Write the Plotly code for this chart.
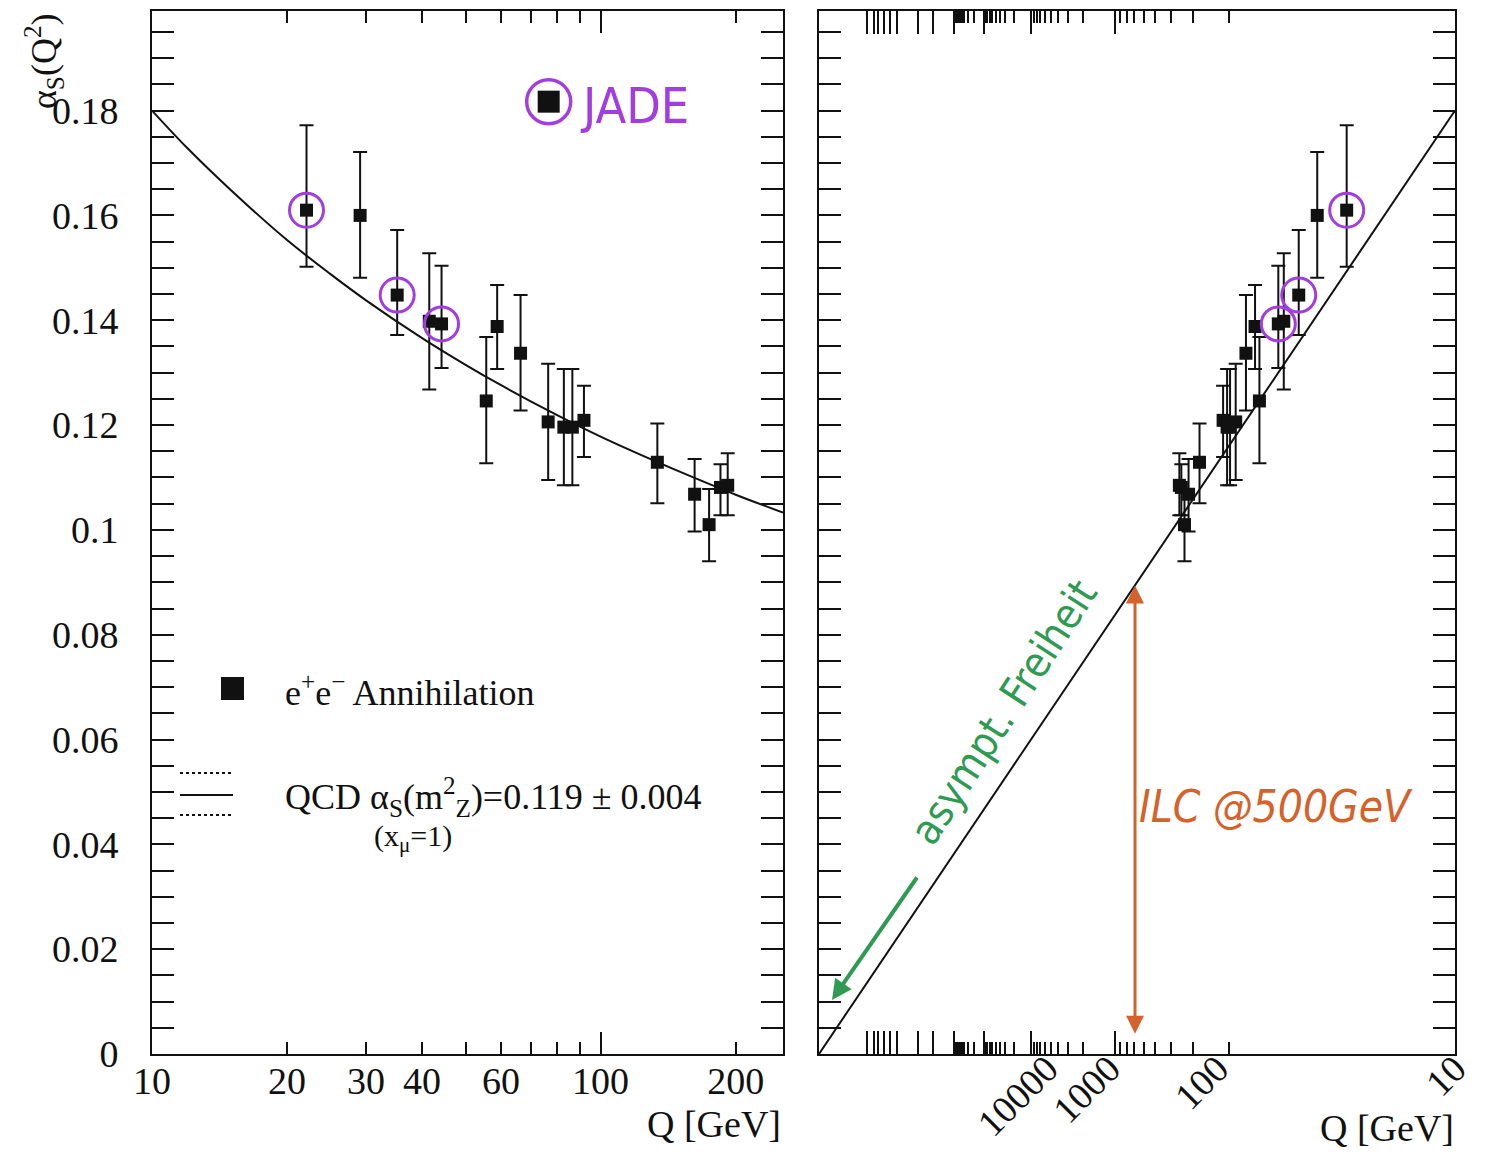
import numpy as np
import plotly.graph_objects as go

# ---------------- data ----------------
Q = [22.1, 29.1, 35.2, 41.5, 44.2, 55.6, 58.8, 66.3, 76.4, 82.8, 86.5, 91.8,
     133.8, 162.0, 174.5, 185.0, 192.0]
alpha_s = [0.1610, 0.1600, 0.1448, 0.1398, 0.1393, 0.1246, 0.1388, 0.1337, 0.1206,
           0.1196, 0.1196, 0.1209, 0.1129, 0.1068, 0.1010, 0.1081, 0.1085]
err_up = [0.0162, 0.0121, 0.0124, 0.0130, 0.0111, 0.0122, 0.0079, 0.0111, 0.0111,
          0.0111, 0.0111, 0.0066, 0.0074, 0.0067, 0.0068, 0.0044, 0.0061]
err_dn = [0.0108, 0.0119, 0.0076, 0.0130, 0.0084, 0.0119, 0.0081, 0.0109, 0.0111,
          0.0111, 0.0111, 0.0070, 0.0078, 0.0071, 0.0070, 0.0053, 0.0057]
circled = [0, 2, 4]          # points marked with purple circles (JADE)

jade_Q = [76.6]
jade_alpha = [0.1817]

curve_Q = [10, 12, 15, 20, 25, 30, 40, 50, 60, 80, 100, 130, 160, 200, 255]
curve_alpha = [0.1800, 0.1728, 0.1648, 0.1553, 0.1488, 0.1438, 0.1366, 0.1315,
               0.1276, 0.1219, 0.1178, 0.1134, 0.1101, 0.1067, 0.1033]

line_Q_end = 10
line_alpha_end = 0.18
ilc_Q = 500

# tick labels
left_x_label_Q = [10, 20, 30, 40, 60, 100, 200]
left_x_minor_Q = [50, 70, 80, 90]
left_x_long_Q = [100]
y_tick_vals = [0, 0.02, 0.04, 0.06, 0.08, 0.10, 0.12, 0.14, 0.16, 0.18]
y_tick_text = ["0", "0.02", "0.04", "0.06", "0.08", "0.1", "0.12", "0.14", "0.16", "0.18"]
right_label_Q = [10, 100, 1000, 10000]
right_label_text = ["10", "100", "1000", "10000"]
right_major_Q = [1e3, 1e4, 1e5, 1e6, 1e7, 1e8, 1e10, 1e11, 1e12, 1e13, 1e14, 1e16]
right_minor_Q = [m * 10.0 ** e for e in (2, 3, 4, 5) for m in range(2, 10)]

# ---------------- scales ----------------
LAMBDA_R = 0.21


def u(q):
    """right panel abscissa: 1/ln(Q/Lambda) (asymptotic-freedom scale)"""
    return 1.0 / np.log(np.asarray(q, dtype=float) / LAMBDA_R)


def u_tick(q):
    """position of the printed tick marks on the right panel"""
    return 0.6969 / (np.log(np.asarray(q, dtype=float)) - 1.123)


U_MAX = float(u(line_Q_end))

W, H = 1488, 1156


def px(x):
    return x / W


def py(y):
    return 1 - y / H


SERIF = "Liberation Serif, Times New Roman, serif"
HAND = "DejaVu Sans Condensed, Liberation Sans Narrow, Liberation Sans, sans-serif"
BLACK = "#111111"
PURPLE = "#a23ee0"
GREEN = "#2e9a52"
ORANGE = "#d4622a"

fig = go.Figure()

err = dict(type="data", symmetric=False, array=err_up, arrayminus=err_dn,
           thickness=2, width=7, color=BLACK)

# ---- left panel ----
fig.add_trace(go.Scatter(x=curve_Q, y=curve_alpha, mode="lines", line=dict(color=BLACK, width=2, shape="spline"),
                         xaxis="x", yaxis="y", showlegend=False))
fig.add_trace(go.Scatter(x=Q, y=alpha_s, mode="markers", error_y=err,
                         marker=dict(symbol="square", size=13, color=BLACK),
                         xaxis="x", yaxis="y", showlegend=False))
fig.add_trace(go.Scatter(x=[Q[i] for i in circled], y=[alpha_s[i] for i in circled], mode="markers",
                         marker=dict(symbol="circle-open", size=34, color=PURPLE, line=dict(width=3)),
                         xaxis="x", yaxis="y", showlegend=False))
fig.add_trace(go.Scatter(x=jade_Q, y=jade_alpha, mode="markers",
                         marker=dict(symbol="square", size=22, color=BLACK),
                         xaxis="x", yaxis="y", showlegend=False))
fig.add_trace(go.Scatter(x=jade_Q, y=jade_alpha, mode="markers",
                         marker=dict(symbol="circle-open", size=44, color=PURPLE, line=dict(width=3.5)),
                         xaxis="x", yaxis="y", showlegend=False))

# ---- right panel ----
fig.add_trace(go.Scatter(x=[0, U_MAX], y=[0, line_alpha_end], mode="lines",
                         line=dict(color=BLACK, width=2), xaxis="x2", yaxis="y2", showlegend=False))
fig.add_trace(go.Scatter(x=u(Q), y=alpha_s, mode="markers", error_y=err,
                         marker=dict(symbol="square", size=13, color=BLACK),
                         xaxis="x2", yaxis="y2", showlegend=False))
fig.add_trace(go.Scatter(x=u([Q[i] for i in circled]), y=[alpha_s[i] for i in circled], mode="markers",
                         marker=dict(symbol="circle-open", size=34, color=PURPLE, line=dict(width=3)),
                         xaxis="x2", yaxis="y2", showlegend=False))

# invisible anchors so that the helper axes (labels / long tick) are drawn
fig.add_trace(go.Scatter(x=[U_MAX / 2], y=[0.1], mode="markers", marker=dict(opacity=0),
                         hoverinfo="skip", xaxis="x3", yaxis="y2", showlegend=False))
fig.add_trace(go.Scatter(x=[50], y=[0.1], mode="markers", marker=dict(opacity=0),
                         hoverinfo="skip", xaxis="x4", yaxis="y", showlegend=False))

tickfont = dict(family=SERIF, size=38, color=BLACK)
XD1 = [px(152), px(783)]
XD2 = [px(819), px(1455)]
YD = [py(1054), py(11)]
YR = [0, 0.199]
LX = [1, np.log10(255.0)]

yax_common = dict(range=YR, domain=YD, showline=True, linecolor=BLACK, linewidth=2, mirror="allticks",
                  ticks="inside", ticklen=22, tickwidth=2, tickcolor=BLACK,
                  tickvals=y_tick_vals, ticktext=y_tick_text,
                  minor=dict(tickmode="linear", tick0=0, dtick=0.005, ticks="inside", ticklen=12,
                             tickwidth=2, tickcolor=BLACK),
                  showgrid=False, zeroline=False, tickfont=tickfont, automargin=False)

fig.update_layout(
    template="none",
    width=W, height=H, autosize=False,
    margin=dict(l=0, r=0, t=0, b=0, pad=0),
    paper_bgcolor="white", plot_bgcolor="white",
    xaxis=dict(type="log", range=LX, domain=XD1, anchor="y", showline=True, linecolor=BLACK, linewidth=2,
               mirror="allticks", ticks="inside", ticklen=12, tickwidth=2, tickcolor=BLACK,
               tickvals=left_x_label_Q, ticktext=[str(v) for v in left_x_label_Q],
               minor=dict(tickvals=left_x_minor_Q, ticks="inside", ticklen=12, tickwidth=2, tickcolor=BLACK),
               showgrid=False, zeroline=False, tickfont=tickfont, ticklabelstandoff=-8, automargin=False),
    xaxis4=dict(type="log", range=LX, overlaying="x", anchor="y", showline=False, mirror="allticks",
                ticks="inside", ticklen=22, tickwidth=2, tickcolor=BLACK, tickvals=left_x_long_Q,
                showticklabels=False, showgrid=False, zeroline=False, automargin=False),
    yaxis=dict(anchor="x", ticklabelstandoff=24, **yax_common),
    xaxis2=dict(range=[0, U_MAX], domain=XD2, anchor="y2", showline=True, linecolor=BLACK, linewidth=2,
                mirror="allticks", ticks="inside", ticklen=23, tickwidth=2, tickcolor=BLACK,
                tickvals=list(u_tick(right_major_Q)), showticklabels=False,
                minor=dict(tickvals=list(u_tick(right_minor_Q)), ticks="inside", ticklen=12,
                           tickwidth=2, tickcolor=BLACK),
                showgrid=False, zeroline=False, automargin=False),
    xaxis3=dict(range=[0, U_MAX], overlaying="x2", anchor="y2", showline=False, ticks="",
                tickvals=list(u(right_label_Q)), ticktext=right_label_text, tickangle=-45,
                showgrid=False, zeroline=False, tickfont=tickfont, ticklabelstandoff=-16, automargin=False),
    yaxis2=dict(anchor="x2", showticklabels=False, **yax_common),
)

ann = []
# axis titles
ann.append(dict(text="Q [GeV]", xref="paper", yref="paper", x=px(783), y=py(1124), xanchor="right",
                yanchor="middle", showarrow=False, font=dict(family=SERIF, size=38, color=BLACK)))
ann.append(dict(text="Q [GeV]", xref="paper", yref="paper", x=px(1456), y=py(1128), xanchor="right",
                yanchor="middle", showarrow=False, font=dict(family=SERIF, size=38, color=BLACK)))
ann.append(dict(text="α<sub>S</sub>(Q<sup>2</sup>)", xref="paper", yref="paper", x=px(44), y=py(62),
                xanchor="center", yanchor="middle", textangle=-90, showarrow=False,
                font=dict(family=SERIF, size=36, color=BLACK)))
# legend texts
ann.append(dict(text="e<sup>+</sup>e<sup>−</sup> Annihilation", xref="paper", yref="paper", x=px(283), y=py(690),
                xanchor="left", yanchor="middle", showarrow=False, font=dict(family=SERIF, size=36, color=BLACK)))
ann.append(dict(text="QCD α<sub>S</sub>(m<sup>2</sup><sub>Z</sub>)=0.119 ± 0.004", xref="paper", yref="paper",
                x=px(283), y=py(797), xanchor="left", yanchor="middle", showarrow=False,
                font=dict(family=SERIF, size=36, color=BLACK)))
ann.append(dict(text="(x<sub>μ</sub>=1)", xref="paper", yref="paper", x=px(372), y=py(838),
                xanchor="left", yanchor="middle", showarrow=False, font=dict(family=SERIF, size=30, color=BLACK)))
# hand-written annotations
ann.append(dict(text="JADE", xref="paper", yref="paper", x=px(578), y=py(106), xanchor="left",
                yanchor="middle", showarrow=False, font=dict(family=HAND, size=50, color=PURPLE)))
ann.append(dict(text="asympt. Freiheit", xref="paper", yref="paper", x=px(1003), y=py(712),
                xanchor="center", yanchor="middle", textangle=-57, showarrow=False,
                font=dict(family=HAND, size=42, color=GREEN)))
ann.append(dict(text="", xref="paper", yref="paper", x=px(832), y=py(1000), ax=86, ay=-124,
                showarrow=True, arrowhead=2, arrowsize=1, arrowwidth=4, arrowcolor=GREEN))
ann.append(dict(text="", xref="x2", yref="y2", x=float(u(ilc_Q)), y=0.0894, axref="x2", ayref="y2",
                ax=float(u(ilc_Q)), ay=0.0036, showarrow=True, arrowhead=2, arrowside="end+start",
                arrowsize=1.2, arrowwidth=3, arrowcolor=ORANGE))
ann.append(dict(text="<i>ILC @500GeV</i>", xref="paper", yref="paper", x=px(1137), y=py(806), xanchor="left",
                yanchor="middle", showarrow=False, font=dict(family=HAND, size=44, color=ORANGE)))
fig.update_layout(annotations=ann)

# legend keys
shapes = [
    dict(type="rect", xref="paper", yref="paper", x0=px(221), x1=px(244), y0=py(700), y1=py(677),
         fillcolor=BLACK, line=dict(width=0)),
    dict(type="line", xref="paper", yref="paper", x0=px(180), x1=px(233), y0=py(773), y1=py(773),
         line=dict(color=BLACK, width=2, dash="dot")),
    dict(type="line", xref="paper", yref="paper", x0=px(180), x1=px(233), y0=py(795), y1=py(795),
         line=dict(color=BLACK, width=2)),
    dict(type="line", xref="paper", yref="paper", x0=px(180), x1=px(233), y0=py(815), y1=py(815),
         line=dict(color=BLACK, width=2, dash="dot")),
]
fig.update_layout(shapes=shapes)

fig.write_html("out.html", config={"displayModeBar": False},
               post_script="document.body.style.margin='0';document.body.style.padding='0';"
                           "document.body.style.overflow='hidden';")
